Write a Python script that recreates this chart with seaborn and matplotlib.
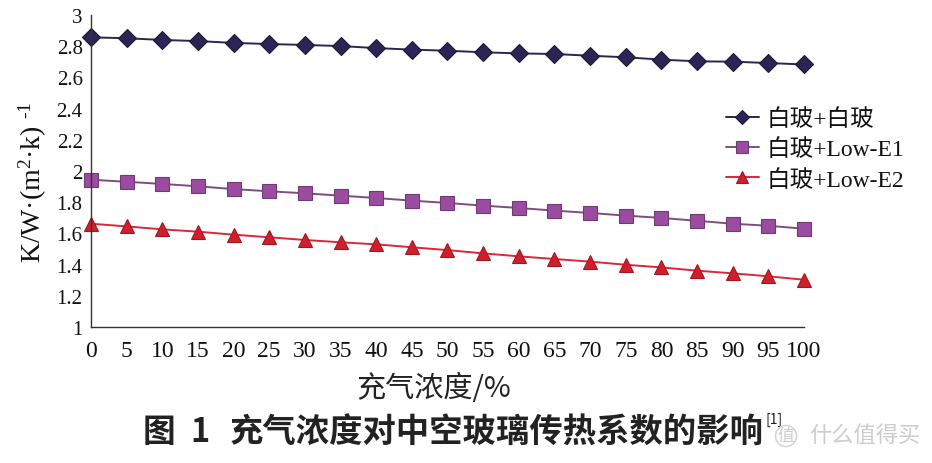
import matplotlib
matplotlib.use("Agg")
import matplotlib.pyplot as plt
import seaborn as sns
import pandas as pd

x_vals = [0, 5, 10, 15, 20, 25, 30, 35, 40, 45, 50, 55, 60, 65, 70, 75, 80, 85, 90, 95, 100]
s_clear = [2.857, 2.851, 2.840, 2.833, 2.821, 2.814, 2.808, 2.801, 2.788, 2.778, 2.771,
           2.761, 2.754, 2.750, 2.739, 2.729, 2.714, 2.703, 2.701, 2.692, 2.683]
s_lowe1 = [1.944, 1.931, 1.917, 1.902, 1.884, 1.870, 1.857, 1.842, 1.827, 1.810, 1.795,
           1.778, 1.763, 1.746, 1.731, 1.714, 1.699, 1.681, 1.662, 1.649, 1.630]
s_lowe2 = [1.662, 1.645, 1.626, 1.611, 1.592, 1.575, 1.558, 1.543, 1.530, 1.511, 1.493,
           1.472, 1.453, 1.436, 1.419, 1.399, 1.382, 1.361, 1.344, 1.325, 1.303]
series_names = ["白玻+白玻", "白玻+Low-E1", "白玻+Low-E2"]
y_ticks = [1, 1.2, 1.4, 1.6, 1.8, 2, 2.2, 2.4, 2.6, 2.8, 3]
y_ticklabels = ["1", "1.2", "1.4", "1.6", "1.8", "2", "2.2", "2.4", "2.6", "2.8", "3"]

sns.set_theme(style="white")
plt.rcParams["font.family"] = ["Liberation Serif", "Noto Sans CJK SC", "DejaVu Sans"]
plt.rcParams["mathtext.fontset"] = "custom"
plt.rcParams["mathtext.rm"] = "Liberation Serif"
plt.rcParams["mathtext.it"] = "Liberation Serif"
plt.rcParams["mathtext.default"] = "rm"

CJK = ["Noto Sans CJK SC", "DejaVu Sans"]

fig = plt.figure(figsize=(9.32, 4.64), dpi=100)
ax = fig.add_axes([0.0976, 0.2931, 0.7651, 0.6724])

styles = [
    dict(color="#2c2454", marker="D", markersize=9, mfc="#2c2454", mec="#1e1838"),
    dict(color="#7d4d80", marker="s", markersize=10.5, mfc="#9c4ca0", mec="#6e3a72"),
    dict(color="#d8283a", marker="^", markersize=10.5, mfc="#cf1f2c", mec="#a5161f"),
]
for name, vals, st in zip(series_names, [s_clear, s_lowe1, s_lowe2], styles):
    df = pd.DataFrame({"x": x_vals, "y": vals})
    sns.lineplot(data=df, x="x", y="y", ax=ax, label=name, color=st["color"],
                 marker=st["marker"], markersize=st["markersize"],
                 markerfacecolor=st["mfc"], markeredgecolor=st["mec"],
                 markeredgewidth=0.8, linewidth=1.4, clip_on=False)

ax.set_xlim(0, 100)
ax.set_ylim(1, 3)
ax.set_xticks(x_vals)
ax.set_xticklabels([str(v) for v in x_vals])
ax.set_yticks(y_ticks)
ax.set_yticklabels(y_ticklabels)
for sp in ["top", "right"]:
    ax.spines[sp].set_visible(False)
for sp in ["left", "bottom"]:
    ax.spines[sp].set_color("#333333")
    ax.spines[sp].set_linewidth(1.0)
ax.tick_params(axis="both", which="major", direction="out", length=4, width=1,
               color="#333333", labelcolor="#111111")
ax.tick_params(axis="x", labelsize=17, pad=5)
ax.tick_params(axis="y", labelsize=15, pad=2)

ax.set_xlabel("充气浓度/%", fontsize=21, color="#222222", family=CJK)
ax.xaxis.set_label_coords(0.48, -0.148)
ax.set_ylabel("K/W·(m$^{2}$·k) $^{\\text{-}1}$", fontsize=20, color="#111111")
ax.yaxis.set_label_coords(-0.059, 0.468)

leg = ax.legend(loc="upper left", bbox_to_anchor=(0.877, 0.731), frameon=False,
                fontsize=17, handlelength=1.4, handletextpad=0.35, labelspacing=0.35,
                borderaxespad=0, markerscale=0.8)
for t in leg.get_texts():
    t.set_color("#111111")

cap_y = 1 - 433 / 464
fig.text(143 / 932, cap_y, "图", fontsize=23.5, fontweight="bold", color="#222222",
         family=CJK, va="center")
fig.text(190 / 932, cap_y, "1", fontsize=23.5, fontweight="bold", color="#222222",
         family=CJK, va="center")
fig.text(230 / 932, cap_y, "充气浓度对中空玻璃传热系数的影响", fontsize=24,
         fontweight="bold", color="#222222", family=CJK, va="center")
fig.text(774 / 932, 1 - 420 / 464, "[1]", fontsize=10, color="#222222",
         family=CJK, va="center", ha="center")
fig.text(786 / 932, 1 - 437 / 464, "值", fontsize=12, color="#cccccc", ha="center",
         va="center", family=CJK,
         bbox=dict(boxstyle="circle,pad=0.12", fc="none", ec="#d6d6d6", lw=1.2))
fig.text(865 / 932, 1 - 435 / 464, "什么值得买", fontsize=16, color="#cccccc",
         ha="center", va="center", family=CJK)

fig.savefig("out.png", dpi=100, facecolor="white")
